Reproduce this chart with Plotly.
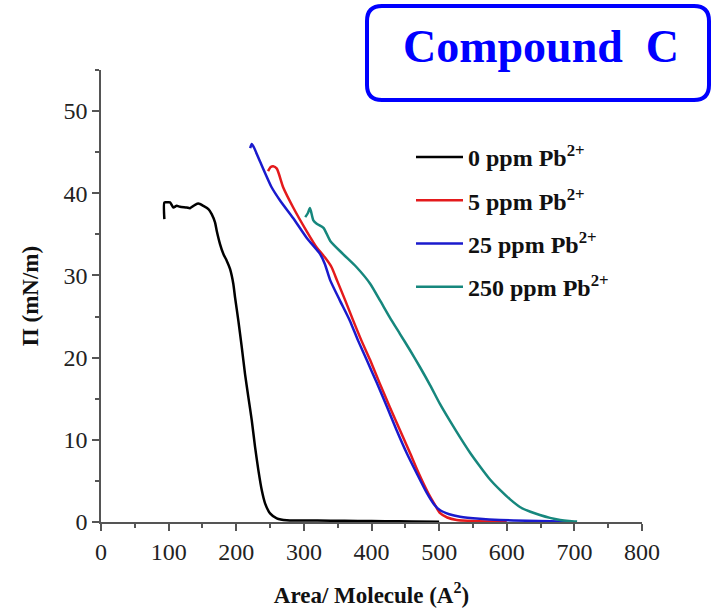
import plotly.graph_objects as go

# ---- data (Area per molecule in A^2, surface pressure in mN/m) ----
area_0 = [93.7, 93.7, 97.1, 102.1, 107.0, 111.9, 116.9, 126.7, 131.7, 139.1, 144.0, 151.4, 158.8,
          163.7, 168.6, 171.1, 176.0, 181.0, 185.9, 190.8, 195.7, 198.2, 203.1, 208.1, 213.0,
          217.9, 222.9, 227.8, 232.7, 237.7, 242.6, 250.0, 259.9, 274.7, 300, 340, 380, 420, 460, 500]
pi_0 = [36.85, 38.88, 38.9, 38.9, 38.27, 38.47, 38.35, 38.27, 38.19, 38.59, 38.75, 38.47, 38.07,
        37.46, 36.45, 35.44, 33.82, 32.6, 31.8, 30.8, 28.97, 27.35, 24.5, 21.3, 18.0,
        15.2, 12.4, 9.14, 6.31, 3.88, 2.27, 1.05, 0.45, 0.2, 0.18, 0.16, 0.13, 0.1, 0.07, 0.04]

area_5 = [247, 251, 254.6, 260, 269.5, 284, 304, 319, 331, 341, 349, 361, 373, 385, 398, 412,
          427, 442, 457, 470, 484, 493, 501, 512, 526, 550, 575, 600]
pi_5 = [42.7, 43.2, 43.3, 43.0, 40.7, 38.3, 35.4, 33.4, 32.2, 31.0, 29.4, 27.0, 24.5, 22.1, 19.7, 16.9,
        14.0, 11.2, 8.4, 5.9, 3.5, 2.2, 1.1, 0.55, 0.25, 0.12, 0.07, 0.03]

area_25 = [220.6, 223, 226, 235, 252.5, 265, 284, 304, 324, 331, 339, 353, 368, 380, 393, 408,
           423, 437, 452, 467, 482, 492, 501, 515, 531, 560, 590, 630, 665, 689]
pi_25 = [45.5, 46.0, 45.6, 43.9, 40.7, 39.1, 37.0, 34.6, 32.6, 31.4, 29.4, 27.0, 24.5, 22.1, 19.7, 16.9,
         14.0, 11.2, 8.4, 5.9, 3.5, 2.2, 1.45, 0.95, 0.65, 0.4, 0.25, 0.15, 0.08, 0.04]

area_250 = [302, 306, 309, 314, 319, 329, 339, 358, 378, 398, 413, 427, 442, 457, 472, 487, 501,
            516, 531, 546, 561, 575, 590, 605, 620, 635, 649, 664, 679, 692, 704]
pi_250 = [37.1, 37.6, 38.2, 36.7, 36.3, 35.8, 34.2, 32.6, 31.0, 29.0, 26.9, 24.9, 22.9, 20.9, 18.8,
          16.6, 14.4, 12.3, 10.3, 8.4, 6.7, 5.2, 3.9, 2.75, 1.8, 1.25, 0.85, 0.5, 0.25, 0.12, 0.05]

series_names = ["0 ppm Pb<sup>2+</sup>", "5 ppm Pb<sup>2+</sup>",
                "25 ppm Pb<sup>2+</sup>", "250 ppm Pb<sup>2+</sup>"]
series_x = [area_0, area_5, area_25, area_250]
series_y = [pi_0, pi_5, pi_25, pi_250]
series_colors = ["#000000", "#e41a1c", "#1a1acd", "#16877d"]

x_ticks = [0, 100, 200, 300, 400, 500, 600, 700, 800]
y_ticks = [0, 10, 20, 30, 40, 50]

FONT = "Liberation Serif, Times New Roman, serif"

fig = go.Figure()
for i, (name, xs, ys, col) in enumerate(zip(series_names, series_x, series_y, series_colors)):
    fig.add_trace(go.Scatter(
        x=xs, y=ys, mode="lines", name="<b>" + name + "</b>",
        line=dict(color=col, width=2.5, shape="spline", smoothing=0.6),
        legendgroup="g%d" % i,
    ))

axis_common = dict(
    showline=True, linecolor="#555555", linewidth=1.5,
    showgrid=False, zeroline=False, automargin=False,
    ticks="outside", tickcolor="#555555", tickwidth=1.5, ticklen=7,
    tickfont=dict(family=FONT, size=24, color="#222222"),
)

fig.update_xaxes(
    range=[0, 800], tickvals=x_ticks,
    minor=dict(dtick=50, tick0=0, ticks="outside", ticklen=4, tickcolor="#555555", tickwidth=1.5),
    title=dict(text="<b>Area/ Molecule (A<sup>2</sup>)</b>",
               font=dict(family=FONT, size=23, color="#111111"), standoff=24),
    **axis_common,
)
fig.update_yaxes(
    range=[0, 55], tickvals=y_ticks,
    minor=dict(dtick=5, tick0=0, ticks="outside", ticklen=4, tickcolor="#555555", tickwidth=1.5),
    title=dict(text="<b>\u03a0 (mN/m)</b>",
               font=dict(family=FONT, size=23, color="#111111"), standoff=18),
    **axis_common,
)

# rounded title box
x0, x1 = (367 - 101) / 541, (709 - 101) / 541
y0, y1 = (522 - 100) / 452, (522 - 6) / 452
rx, ry = 15 / 541, 15 / 452
path = (f"M {x0+rx},{y0} L {x1-rx},{y0} Q {x1},{y0} {x1},{y0+ry} "
        f"L {x1},{y1-ry} Q {x1},{y1} {x1-rx},{y1} L {x0+rx},{y1} "
        f"Q {x0},{y1} {x0},{y1-ry} L {x0},{y0+ry} Q {x0},{y0} {x0+rx},{y0} Z")
fig.add_shape(type="path", path=path, xref="paper", yref="paper",
              line=dict(color="#0000ff", width=4), fillcolor="white", layer="above")
fig.add_annotation(text="<b>Compound  C</b>", xref="paper", yref="paper",
                   x=(541 - 101) / 541, y=(522 - 47) / 452, xanchor="center", yanchor="middle",
                   showarrow=False, font=dict(family=FONT, size=46, color="#0000ff"))

fig.update_layout(
    width=712, height=608,
    margin=dict(l=101, r=70, t=70, b=86, autoexpand=False),
    paper_bgcolor="white", plot_bgcolor="white",
    showlegend=True,
    legend=dict(x=(411 - 101) / 541, y=(522 - 135) / 452, xanchor="left", yanchor="top",
                bgcolor="rgba(0,0,0,0)", tracegroupgap=9, itemwidth=47,
                font=dict(family=FONT, size=24, color="#111111")),
)

fig.write_html("out.html")
